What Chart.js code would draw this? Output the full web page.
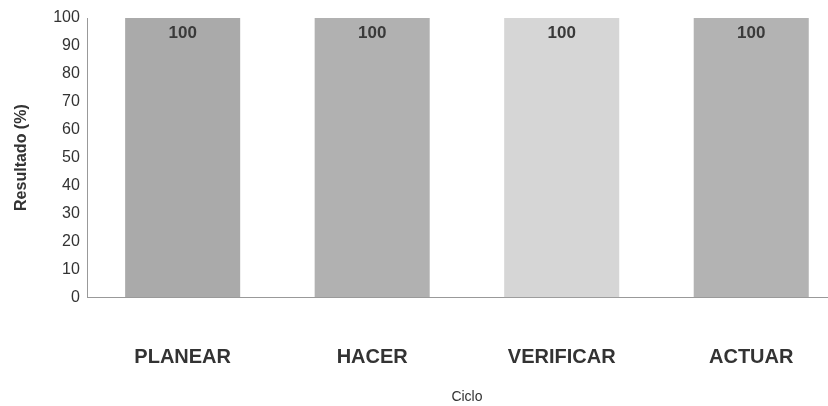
<!DOCTYPE html>
<html>
<head>
<meta charset="utf-8">
<script src="https://cdn.jsdelivr.net/npm/chart.js@4.4.1/dist/chart.umd.min.js"></script>
<style>
  html, body { margin: 0; padding: 0; background: #fff; overflow: hidden; }
  #wrap { width: 850px; height: 406px; }
</style>
</head>
<body>
<div id="wrap"><canvas id="cicloChart"></canvas></div>
<script>
// Chart data
const categories = ['PLANEAR', 'HACER', 'VERIFICAR', 'ACTUAR'];
const resultados = [100, 100, 100, 100];
const barColors = ['#aaaaaa', '#b1b1b1', '#d6d6d6', '#b3b3b3'];
const yTicks = [0, 10, 20, 30, 40, 50, 60, 70, 80, 90, 100];

const FONT = 'Arial, "Liberation Sans", sans-serif';

// Draw "100" labels inside the top of each bar
const valueLabels = {
    id: 'valueLabels',
    afterDatasetsDraw(chart) {
        const ctx = chart.ctx;
        const meta = chart.getDatasetMeta(0);
        ctx.save();
        ctx.font = 'bold 17px ' + FONT;
        ctx.fillStyle = '#3a3a3a';
        ctx.textAlign = 'center';
        ctx.textBaseline = 'middle';
        meta.data.forEach((bar, i) => {
            ctx.fillText(String(resultados[i]), bar.x, bar.y + 15);
        });
        ctx.restore();
    }
};

function initChart() {
    const ctx = document.getElementById('cicloChart').getContext('2d');
    new Chart(ctx, {
        type: 'bar',
        data: {
            labels: categories,
            datasets: [{
                data: resultados,
                backgroundColor: barColors,
                borderWidth: 0,
                barPercentage: 0.607,
                categoryPercentage: 1
            }]
        },
        options: {
            responsive: true,
            maintainAspectRatio: false,
            animation: false,
            layout: { padding: { top: 18, right: 4, bottom: 0, left: 12 } },
            plugins: { legend: { display: false }, tooltip: { enabled: false } },
            scales: {
                x: {
                    grid: { display: false, drawTicks: true, tickLength: 48 },
                    border: { color: '#999', dash: [2, 2] },
                    ticks: {
                        color: '#333',
                        padding: 0,
                        font: { family: FONT, size: 20, weight: 'bold' }
                    },
                    title: {
                        display: true,
                        text: 'Ciclo',
                        color: '#333',
                        padding: { top: 20, bottom: 0 },
                        font: { family: FONT, size: 14 }
                    }
                },
                y: {
                    min: 0,
                    max: 100,
                    afterBuildTicks: axis => { axis.ticks = yTicks.map(v => ({ value: v })); },
                    grid: { display: false, drawTicks: true, tickLength: 4 },
                    border: { color: '#999', dash: [2, 2] },
                    ticks: {
                        color: '#333',
                        padding: 4,
                        font: { family: FONT, size: 16 }
                    },
                    title: {
                        display: true,
                        text: 'Resultado (%)',
                        color: '#333',
                        padding: { top: 0, bottom: 18 },
                        font: { family: FONT, size: 16, weight: 'bold' }
                    }
                }
            }
        },
        plugins: [valueLabels]
    });
}

document.addEventListener('DOMContentLoaded', initChart);
</script>
</body>
</html>
